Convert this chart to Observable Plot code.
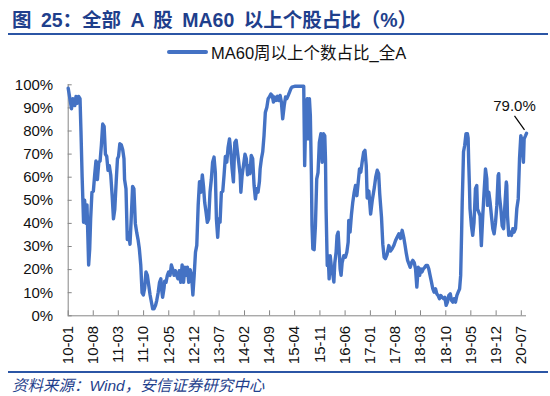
<!DOCTYPE html>
<html><head><meta charset="utf-8">
<script src="https://cdn.jsdelivr.net/npm/d3@7"></script>
<script src="https://cdn.jsdelivr.net/npm/@observablehq/plot@0.6"></script>
<style>
body{margin:0;background:#fff;}
#wrap{position:relative;width:550px;height:396px;overflow:hidden;font-family:"Liberation Sans",Arial,"Noto Sans CJK SC",sans-serif;}
#title{position:absolute;left:12px;top:7px;font-size:19.5px;font-weight:bold;color:#1F3F8C;white-space:nowrap;line-height:26px;word-spacing:4px;}
#tline{position:absolute;left:8px;top:33px;width:540px;height:2px;background:#2B55A5;}
#legend{position:absolute;left:167px;top:41px;height:22px;display:flex;align-items:center;white-space:nowrap;}
#legend .sw{width:41px;height:4px;background:#4472C4;border-radius:2px;margin-right:3px;}
#legend .lt{font-size:16.5px;color:#111;}
#chart{position:absolute;left:0;top:62px;}
#bline{position:absolute;left:8px;top:371px;width:540px;height:1.5px;background:#2B55A5;}
#source{position:absolute;left:12px;top:375px;font-size:15.5px;font-style:italic;color:#1F3F8C;white-space:nowrap;line-height:22px;}
</style>
</head><body>
<div id="wrap">
  <div id="title"></div>
  <div id="tline"></div>
  <div id="legend"><div class="sw"></div><div class="lt"></div></div>
  <div id="chart"></div>
  <div id="bline"></div>
  <div id="source"></div>
</div>
<script>
const titleText = "图 25：全部 A 股 MA60 以上个股占比（%）";
const seriesName = "MA60周以上个数占比_全A";
const sourceText = "资料来源：Wind，安信证券研究中心";
const lastLabel = "79.0%";

const tickLabels = ["10-01","10-08","11-03","11-10","12-05","12-12","13-07","14-02","14-09","15-04","15-11","16-06","17-01","17-08","18-03","18-10","19-05","19-12","20-07"];
const yTickValues = [0,10,20,30,40,50,60,70,80,90,100];

const dates = [
"2010-01-01","2010-01-29","2010-02-10","2010-02-26","2010-03-08","2010-03-18","2010-03-30","2010-04-11","2010-04-19","2010-04-29",
"2010-05-11","2010-05-20","2010-06-01","2010-06-09","2010-06-23","2010-07-02","2010-07-10","2010-07-21","2010-08-02","2010-08-13",
"2010-08-24","2010-09-05","2010-09-17","2010-09-28","2010-10-09","2010-10-20","2010-11-01","2010-11-12","2010-11-23","2010-12-04",
"2010-12-15","2010-12-27","2011-01-08","2011-01-19","2011-01-30","2011-02-11","2011-02-22","2011-03-03","2011-03-14","2011-03-26",
"2011-04-07","2011-04-18","2011-04-23","2011-05-05","2011-05-16","2011-05-27","2011-06-08","2011-06-19","2011-06-30","2011-07-11",
"2011-07-23","2011-08-04","2011-08-15","2011-08-26","2011-09-07","2011-09-18","2011-09-29","2011-10-10","2011-10-21","2011-11-02",
"2011-11-14","2011-11-25","2011-12-06","2011-12-17","2011-12-28","2012-01-10","2012-01-20","2012-02-01","2012-02-13","2012-02-24",
"2012-02-29","2012-03-10","2012-03-22","2012-03-27","2012-04-08","2012-04-19","2012-04-30","2012-05-12","2012-05-23","2012-06-04",
"2012-06-15","2012-06-26","2012-07-07","2012-07-18","2012-07-29","2012-08-10","2012-08-22","2012-09-03","2012-09-14","2012-09-25",
"2012-10-06","2012-10-17","2012-10-29","2012-11-10","2012-11-21","2012-12-02","2012-12-13","2012-12-24","2013-01-05","2013-01-16",
"2013-01-28","2013-02-09","2013-02-19","2013-03-01","2013-03-12","2013-03-23","2013-04-04","2013-04-15","2013-04-26","2013-05-07",
"2013-05-19","2013-05-30","2013-06-08","2013-06-19","2013-06-28","2013-07-09","2013-07-20","2013-08-01","2013-08-12","2013-08-23",
"2013-09-04","2013-09-15","2013-09-27","2013-10-08","2013-10-19","2013-10-30","2013-11-11","2013-11-22","2013-12-03","2013-12-14",
"2013-12-26","2014-01-01","2014-01-12","2014-01-23","2014-02-05","2014-02-16","2014-02-27","2014-03-08","2014-03-19","2014-03-30",
"2014-04-11","2014-04-23","2014-05-04","2014-05-15","2014-05-26","2014-06-07","2014-06-13","2014-06-24","2014-07-05","2014-07-16",
"2014-07-27","2014-08-09","2014-08-20","2014-08-30","2014-09-12","2014-09-23","2014-10-04","2014-10-15","2014-10-26","2014-11-07",
"2014-11-18","2014-11-29","2014-12-10","2014-12-21","2015-01-03","2015-01-14","2015-01-25","2015-02-06","2015-02-17","2015-02-28",
"2015-03-09","2015-04-07","2015-05-19","2015-06-17","2015-06-25","2015-07-06","2015-07-18","2015-07-23","2015-08-04","2015-08-12",
"2015-08-21","2015-08-26","2015-09-02","2015-09-13","2015-09-24","2015-10-05","2015-10-16","2015-10-27","2015-11-09","2015-11-20",
"2015-12-01","2015-12-12","2015-12-18","2015-12-23","2016-01-02","2016-01-10","2016-01-18","2016-01-27","2016-02-08","2016-02-19",
"2016-02-27","2016-03-06","2016-03-17","2016-03-25","2016-04-03","2016-04-11","2016-04-20","2016-04-28","2016-05-07","2016-05-21",
"2016-06-04","2016-06-16","2016-06-27","2016-07-02","2016-07-13","2016-07-24","2016-08-05","2016-08-17","2016-08-28","2016-09-09",
"2016-09-20","2016-10-01","2016-10-12","2016-10-23","2016-11-05","2016-11-16","2016-11-27","2016-12-05","2016-12-19","2017-01-03",
"2017-01-17","2017-02-04","2017-02-15","2017-02-28","2017-03-12","2017-03-21","2017-04-05","2017-04-16","2017-04-27","2017-05-08",
"2017-05-22","2017-06-06","2017-06-20","2017-07-04","2017-07-18","2017-08-02","2017-08-15","2017-08-30","2017-09-13","2017-09-27",
"2017-10-10","2017-10-20","2017-11-01","2017-11-12","2017-11-23","2017-12-04","2017-12-15","2017-12-26","2018-01-07","2018-01-18",
"2018-01-29","2018-02-10","2018-02-22","2018-03-03","2018-03-14","2018-03-25","2018-04-06","2018-04-17","2018-04-29","2018-05-10",
"2018-05-21","2018-06-02","2018-06-13","2018-06-24","2018-07-06","2018-07-17","2018-07-28","2018-08-09","2018-08-20","2018-09-01",
"2018-09-12","2018-09-23","2018-10-04","2018-10-15","2018-10-27","2018-11-08","2018-11-19","2018-11-30","2018-12-11","2018-12-22",
"2019-01-03","2019-01-14","2019-01-26","2019-02-04","2019-02-12","2019-02-17","2019-02-23","2019-02-28","2019-03-10","2019-03-21",
"2019-04-02","2019-04-08","2019-04-13","2019-04-19","2019-04-24","2019-05-06","2019-05-17","2019-05-28","2019-06-09","2019-06-20",
"2019-06-26","2019-07-07","2019-07-18","2019-07-29","2019-08-10","2019-08-21","2019-09-02","2019-09-13","2019-09-19","2019-09-30",
"2019-10-11","2019-10-22","2019-11-03","2019-11-14","2019-11-26","2019-12-07","2019-12-18","2019-12-23","2019-12-29","2020-01-10",
"2020-01-21","2020-02-02","2020-02-13","2020-02-25","2020-02-29","2020-03-06","2020-03-17","2020-03-28","2020-04-09","2020-04-20",
"2020-05-01","2020-05-13","2020-05-24","2020-06-05","2020-06-16","2020-06-27","2020-07-08","2020-07-19","2020-07-25","2020-08-06",
"2020-08-14"
];

const values = [
98.5,89.6,94,91,95,92,95,94,80,60,
40.5,50,40,48,22,29,42,53.5,54,61,
67,59,66.5,67,74,83,82,70,69,63,
65,61,52,42,46,58,68,69,74.5,74,
72,68,59,55,33,36,31,43,56,55,
40,36,33,29,22,10,9,12,19,17.5,
13,9,6,3,3,4.5,6.6,10,14.5,16,
12,8,12,15,14.5,17.5,19,17.5,22,20,
17.5,19.5,17.5,16,19.5,14.5,22,14.5,21,17.5,
21,14.5,20,17.5,9,17.5,27.5,30.5,48,58,
53.5,61,56,49,45,40.5,42,53.5,59,66.5,
68.7,62,42,34,42,40.5,53.5,54,61,69,
66.5,73,76.6,71,63.6,58,75,76,71,66.5,
61,53.5,61,65,70,68,61,65,61.5,69.4,
68,56.4,50.6,55,53.5,58,63.6,68,71,78,
88,90.3,94,94.7,96,95.4,92.5,94.7,93.2,95,
93.2,95.4,92.5,85.3,91,94.7,94,95.4,96.8,98.3,
99,99.4,99.4,99.4,65,91,94,76.6,94,86.7,
60.7,39,29,28.6,39,59.3,62,75,78.8,66.5,
78.8,78,68,46.3,21.8,26,16,26,20.3,17.5,
14.6,23,27.6,34.8,36.2,29,20.3,17.5,23,26,
25.4,27.6,31.9,41.3,36.2,43.4,49.2,53.5,56.4,52,
57.9,63.6,62.2,66.5,70.8,71.6,65,51,54,44,
50,55.7,60,63,61.5,52.8,42.7,31,25.4,24.7,
26.5,30.4,28,29,30.4,32.6,34,35.5,33.5,37,
34,31,27,24,22.5,21,23,24,23,20.3,
12.4,21,17.5,20.3,19,20.3,21,21.8,21.8,20.3,
17.5,14.6,11.7,10.2,11.7,9.5,8.8,7.4,8.8,8,
7.4,8,4.5,5.9,8.8,9.5,6.6,5.9,7.4,5.9,
8.8,10.2,11.7,17.5,36,49,60.7,71,73.7,78.8,
78.8,77,66.5,56.4,46.3,39,34.8,40.5,55,56.4,
46.3,44.9,43.4,30.4,43.4,53.5,63.6,59.3,47.8,53.5,
49.2,43.4,37.7,35.5,40.5,47.8,60.7,61.5,52,46.3,
39,37.7,47.8,57.9,56.4,43.4,34.8,36.2,34.8,37.7,
36.2,37.7,46.3,50.6,68,78,75,66.5,76.6,78,
79.0
];

document.getElementById("title").textContent = titleText;
document.querySelector("#legend .lt").textContent = seriesName;
document.getElementById("source").textContent = sourceText;

const parse = d3.utcParse("%Y-%m-%d");
const data = dates.map((d, i) => ({date: parse(d), value: values[i]}));
const tickParse = d3.utcParse("%y-%m");
const tickDates = tickLabels.map(s => tickParse(s));
const last = data[data.length - 1];

const W = 550, H = 308, mT = 22.3, mB = 54.7, mL = 67.7, mR = 24;
const plotH = H - mT - mB, plotW = W - mL - mR;
const axisColor = "#868686";

const chart = Plot.plot({
  width: W, height: H,
  marginTop: mT, marginBottom: mB, marginLeft: mL, marginRight: mR,
  style: {fontFamily: '"Liberation Sans", Arial, "Noto Sans CJK SC", sans-serif', fontSize: "15px", color: "#111", background: "transparent", overflow: "visible"},
  x: {type: "utc", domain: [data[0].date, last.date]},
  y: {domain: [0, 100]},
  marks: [
    Plot.ruleY([0], {stroke: axisColor}),
    Plot.ruleX([data[0].date], {stroke: axisColor}),
    Plot.tickX(tickDates, {x: d => d, stroke: axisColor, insetTop: plotH - 5}),
    Plot.tickY(yTickValues, {y: d => d, stroke: axisColor, insetRight: plotW - 4}),
    Plot.axisX({ticks: tickDates, tickFormat: (d, i) => tickLabels[i], tickSize: 0, tickPadding: 10, tickRotate: -90, label: null}),
    Plot.axisY({ticks: yTickValues, tickFormat: d => d + "%", tickSize: 0, tickPadding: 15, label: null}),
    Plot.line(data, {x: "date", y: "value", stroke: "#4472C4", strokeWidth: 3.4, strokeLinejoin: "round", strokeLinecap: "round"}),
    Plot.text([last], {x: "date", y: "value", text: () => lastLabel, dx: -12, dy: -27, fontSize: 15, fill: "#111"})
  ]
});
document.getElementById("chart").appendChild(chart);

// leader line from the last data point towards its label, positioned with the chart's own scales
const sx = chart.scale("x"), sy = chart.scale("y");
const px = sx.apply(last.date), py = sy.apply(last.value);
d3.select(chart).append("line")
  .attr("x1", px - 1.5).attr("y1", py - 3)
  .attr("x2", px - 11.5).attr("y2", py - 17)
  .attr("stroke", "#000").attr("stroke-width", 1.2);
</script>
</body></html>
